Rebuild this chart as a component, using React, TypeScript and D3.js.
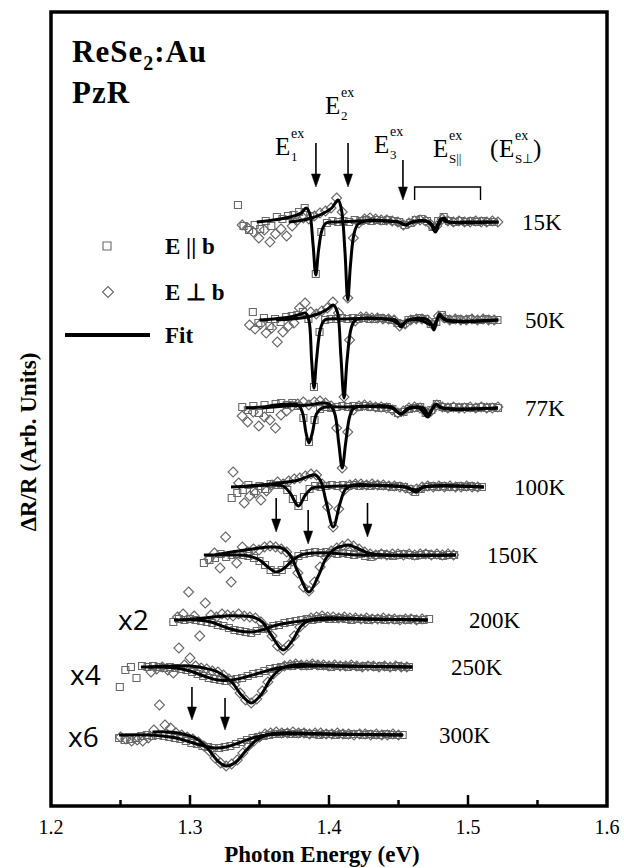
import React from "react";
import * as d3 from "d3";

// temperatures, stacking offsets (arb. units) and the first photon energy of each series
const temps = ["15K", "50K", "77K", "100K", "150K", "200K", "250K", "300K"];
const offsets = [584, 486, 398, 319, 251, 186, 139, 71];
const step = 0.004;
const parStart = [1.3345, 1.3452, 1.3376, 1.33, 1.31, 1.288, 1.2495, 1.249];
const perpStart = [1.3375, 1.3428, 1.3375, 1.331, 1.3136, 1.291, 1.272, 1.25];

// measured dR/R, E || b (squares)
const par15 = [17,-4,-8,-3,-7,1,-4,5,3,6,7,10,14,6,-52,-10,-1,1,0,1,0,2,1,2,1,2,1,2,1,0,-3,-1,2,3,1,-5,1,5,1,0,1,0,1,0,1,0,0];
const par50 = [8,-3,2,-6,1,-2,3,4,5,8,1,-67,-12,0,1,1,2,1,2,1,2,1,1,2,1,0,-3,-4,0,1,2,1,-4,-2,5,1,0,1,0,1,0,0,1,0,0];
const par77 = [1,-2,2,-5,3,-1,4,5,3,5,2,-10,-34,-12,-1,1,0,1,2,1,2,1,2,1,1,0,1,-1,-5,-4,-1,0,1,-5,-2,4,1,0,1,0,1,0,0,1,0,1,0];
const par100 = [-11,-6,-3,2,-4,1,-2,3,2,2,-3,-12,-19,-10,-2,1,0,1,2,1,2,1,2,1,2,1,2,1,1,0,1,0,-2,-5,-2,0,1,0,1,0,0,1,0,1,0,0];
const par150 = [-8,-5,-3,1,-2,0,1,0,-1,-3,-6,-10,-15,-17,-15,-10,-5,-1,1,2,3,2,3,2,1,2,1,0,1,-1,-2,0,1,0,-1,0,1,0,-1,0,1,0,0,-1,0,0];
const par200 = [-2,1,0,1,0,-1,-2,-3,-5,-6,-8,-10,-11,-12,-13,-11,-9,-8,-6,-5,-3,-2,-1,0,1,0,1,2,1,1,2,1,0,1,1,0,1,1,0,1,0,1,0,1,0,0,1];
const par250 = [-20,-3,0,-11,1,0,1,0,-1,0,-1,-2,-3,-5,-7,-9,-11,-12,-13,-14,-13,-12,-11,-9,-7,-6,-4,-2,-1,0,1,1,2,1,1,2,1,1,0,1,1,0,1,0,1,1,0,1,0,0,1,0,0];
const par300 = [-3,-5,-4,-3,-1,0,-1,0,-1,-2,-3,-4,-6,-8,-9,-11,-12,-13,-13,-12,-11,-9,-7,-5,-3,-2,-1,0,1,1,2,1,1,2,1,1,0,1,1,0,1,0,1,1,0,1,0,0,1,0,0,0];

// measured dR/R, E perp b (diamonds)
const perp15 = [-3,-6,-10,-16,-8,-20,-12,-7,-14,-4,2,4,3,6,9,11,14,24,10,-76,-16,-1,3,4,3,2,2,1,0,-3,-1,1,2,1,-3,-4,3,1,0,1,0,0,1,0,0,1,0];
const perp50 = [-5,-9,-4,-13,-8,-22,-12,-6,-3,12,17,8,6,9,12,18,7,-77,-20,-1,3,3,2,2,1,1,0,-6,-4,0,1,1,0,-5,4,2,0,1,0,0,1,0,1,0,0];
const perp77 = [-8,-14,-4,-18,-9,-12,-20,-7,-3,2,4,6,3,6,7,5,2,-20,-60,-24,-2,2,3,2,1,1,0,-2,-5,-3,0,1,0,-4,-3,3,1,0,1,0,0,1,0,1,0,0,1];
const perp100 = [15,4,-16,-9,-6,-13,-4,2,5,3,6,8,9,11,13,12,3,-20,-40,-22,-3,2,3,3,2,3,2,2,1,1,0,-1,-3,-2,0,1,0,1,0,1,0,0,1,0,0];
const perp150 = [-4,2,-13,18,-27,-8,8,3,6,5,8,9,8,6,3,-6,-18,-32,-36,-27,-12,-2,4,7,9,11,9,6,3,1,0,1,0,1,1,0,1,0,1,1,0,1,0,1,0];
const perp200 = [3,6,28,4,-16,17,5,3,6,5,4,6,4,3,2,-2,-8,-16,-26,-30,-25,-16,-7,-2,2,3,4,3,3,2,3,2,2,1,2,1,1,2,1,1,0,1,1,0,1];
const perp250 = [-5,-2,0,-3,-6,19,2,9,1,-1,-2,-4,-5,-8,-12,-18,-26,-33,-36,-32,-24,-15,-7,-2,1,2,3,2,2,3,2,2,1,2,1,1,2,1,0,1,1,0,1,0,1,0,0];
const perp300 = [-2,-4,-6,-5,-6,-3,5,30,10,7,2,0,-2,-4,-7,-11,-16,-23,-28,-31,-29,-25,-18,-11,-6,-2,1,2,3,2,2,3,2,2,1,2,2,1,1,2,1,1,0,1,1,0,1,0,0,1,0];

// line-shape fits [energy, dR/R]
const fitPar15 = [[1.348,0],[1.36,2],[1.372,5],[1.38,9],[1.3835,14],[1.386,9],[1.3885,-22],[1.3905,-53],[1.3925,-28],[1.395,-8],[1.398,-1],[1.405,0],[1.45,0],[1.455,-3],[1.46,0],[1.47,1],[1.4735,-3],[1.4765,-10],[1.4795,-1],[1.4825,4],[1.486,0],[1.5,0],[1.522,0]];
const fitPerp15 = [[1.371,0],[1.385,3],[1.395,8],[1.402,14],[1.4065,22],[1.409,12],[1.4115,-30],[1.4135,-78],[1.4155,-42],[1.418,-12],[1.421,-2],[1.43,2],[1.44,1],[1.45,0],[1.455,-3],[1.46,0],[1.472,0],[1.4765,-6],[1.4805,3],[1.485,0],[1.522,0]];
const fitPar50 = [[1.35,0],[1.36,1],[1.372,3],[1.38,6],[1.383,7],[1.3855,0],[1.3875,-40],[1.3892,-68],[1.391,-40],[1.394,-8],[1.397,0],[1.41,1],[1.445,0],[1.4518,-5],[1.457,0],[1.47,1],[1.4735,-4],[1.4755,-10],[1.4775,-1],[1.4795,6],[1.483,0],[1.5216,0]];
const fitPerp50 = [[1.362,0],[1.38,2],[1.392,6],[1.399,11],[1.403,15],[1.406,8],[1.4085,-35],[1.4108,-78],[1.413,-40],[1.416,-8],[1.419,0],[1.43,2],[1.44,1],[1.448,0],[1.4518,-7],[1.456,-1],[1.465,0],[1.4755,-5],[1.4795,4],[1.485,0],[1.5216,0]];
const fitPar77 = [[1.34,0],[1.352,1],[1.362,3],[1.372,4],[1.378,3],[1.381,-5],[1.3835,-25],[1.3856,-35],[1.388,-25],[1.391,-6],[1.395,0],[1.41,1],[1.445,0],[1.4518,-6],[1.457,-1],[1.465,0],[1.4712,-9],[1.4745,0],[1.477,4],[1.481,0],[1.5216,0]];
const fitPerp77 = [[1.352,0],[1.37,2],[1.385,3],[1.395,5],[1.4,4],[1.404,-5],[1.407,-35],[1.4095,-60],[1.412,-35],[1.415,-8],[1.418,0],[1.43,2],[1.445,1],[1.4518,-6],[1.457,0],[1.468,0],[1.4712,-6],[1.477,3],[1.482,0],[1.5216,0]];
const fitPar100 = [[1.3295,0],[1.345,1],[1.36,2],[1.367,1],[1.372,-6],[1.378,-19],[1.383,-8],[1.388,-1],[1.395,0],[1.41,1],[1.455,0],[1.4626,-5],[1.468,0],[1.5115,0]];
const fitPerp100 = [[1.335,0],[1.35,2],[1.365,4],[1.378,7],[1.386,11],[1.39,12],[1.394,6],[1.398,-15],[1.403,-40],[1.408,-16],[1.412,-2],[1.418,2],[1.43,2],[1.445,1],[1.455,0],[1.4626,-3],[1.468,0],[1.5115,0]];
const fitPar150 = [[1.31,0],[1.33,0],[1.342,-1],[1.35,-5],[1.356,-12],[1.362,-17],[1.368,-13],[1.374,-5],[1.38,0],[1.39,2],[1.4,2],[1.41,1],[1.42,0],[1.4914,0]];
const fitPerp150 = [[1.318,0],[1.33,3],[1.345,6],[1.358,8],[1.366,7],[1.372,0],[1.378,-18],[1.3856,-37],[1.392,-22],[1.398,-3],[1.404,6],[1.41,9],[1.414,10],[1.42,7],[1.428,2],[1.44,0],[1.4914,0]];
const fitPar200 = [[1.2885,0],[1.305,0],[1.315,-2],[1.325,-7],[1.335,-11],[1.344,-12],[1.352,-10],[1.36,-6],[1.37,-3],[1.38,-1],[1.39,0],[1.41,1],[1.471,0]];
const fitPerp200 = [[1.295,0],[1.31,2],[1.325,4],[1.335,4],[1.345,3],[1.352,-2],[1.358,-14],[1.367,-30],[1.374,-20],[1.38,-6],[1.386,0],[1.395,2],[1.41,2],[1.43,1],[1.471,0]];
const fitPar250 = [[1.2647,0],[1.28,0],[1.29,-1],[1.3,-4],[1.31,-9],[1.32,-13],[1.33,-13],[1.34,-10],[1.35,-6],[1.36,-2],[1.37,0],[1.39,1],[1.46,0]];
const fitPerp250 = [[1.27,0],[1.29,1],[1.3,1],[1.31,-1],[1.32,-5],[1.33,-15],[1.337,-28],[1.344,-36],[1.351,-28],[1.358,-12],[1.365,-2],[1.375,2],[1.39,2],[1.41,1],[1.46,0]];
const fitPar300 = [[1.249,0],[1.27,0],[1.28,-1],[1.29,-3],[1.3,-7],[1.31,-11],[1.318,-13],[1.326,-12],[1.335,-8],[1.345,-3],[1.355,0],[1.37,1],[1.453,0]];
const fitPerp300 = [[1.273,3],[1.285,3],[1.295,1],[1.305,-4],[1.313,-14],[1.32,-26],[1.326,-31],[1.333,-27],[1.34,-16],[1.347,-6],[1.355,0],[1.365,2],[1.38,2],[1.4,1],[1.453,0]];

const parData = [par15, par50, par77, par100, par150, par200, par250, par300];
const perpData = [perp15, perp50, perp77, perp100, perp150, perp200, perp250, perp300];
const parFits = [fitPar15, fitPar50, fitPar77, fitPar100, fitPar150, fitPar200, fitPar250, fitPar300];
const perpFits = [fitPerp15, fitPerp50, fitPerp77, fitPerp100, fitPerp150, fitPerp200, fitPerp250, fitPerp300];

// transition arrows: energy, tail and tip (arb. units)
const arrowE = [1.3906, 1.4137, 1.4532, 1.362, 1.385, 1.4277, 1.3014, 1.3252];
const arrowTop = [663, 663, 646, 308, 296, 303, 119, 108];
const arrowTip = [619, 619, 606, 274, 262, 269, 86, 76];
const bracketE = [1.4616, 1.509];

const xTicks = [1.2, 1.3, 1.4, 1.5, 1.6];
const xMinor = [1.25, 1.35, 1.45, 1.55];

const serif = "'Liberation Serif', 'Times New Roman', serif";

export default function App() {
  const x = d3.scaleLinear().domain([1.2, 1.6]).range([51, 607]);
  const y = d3.scaleLinear().domain([0, 794]).range([806, 12]);
  const fitLine = (off: number) =>
    d3.line<number[]>()
      .x(d => x(d[0]))
      .y(d => y(off + d[1]))
      .curve(d3.curveCatmullRom.alpha(0.5));

  const labelX = [522, 525, 525, 514, 487, 469, 451, 439];
  const mult = [
    { t: "x2", x: 118, y: 630 },
    { t: "x4", x: 70, y: 685 },
    { t: "x6", x: 68, y: 747 },
  ];

  const square = (cx: number, cy: number, s = 3.5) =>
    `M${cx - s},${cy - s}h${2 * s}v${2 * s}h${-2 * s}Z`;
  const diamond = (cx: number, cy: number, s = 5) =>
    `M${cx},${cy - s}l${s},${s}l${-s},${s}l${-s},${-s}Z`;

  const ex = (px: number, py: number, sub: string) => (
    <g fontFamily={serif}>
      <text x={px} y={py} fontSize={25}>E</text>
      <text x={px + 16} y={py - 17} fontSize={14}>ex</text>
      <text x={px + 16} y={py + 6} fontSize={13}>{sub}</text>
    </g>
  );

  return (
    <svg
      width={624}
      height={868}
      style={{ position: "absolute", left: 0, top: 0, display: "block", background: "#fff" }}
    >
      {/* data markers */}
      <g fill="none" stroke="#686868" strokeWidth={1.1}>
        {parData.map((vals, t) =>
          vals.map((v, i) => (
            <path key={`p${t}-${i}`} d={square(x(parStart[t] + i * step), y(offsets[t] + v))} />
          ))
        )}
        {perpData.map((vals, t) =>
          vals.map((v, i) => (
            <path key={`d${t}-${i}`} d={diamond(x(perpStart[t] + i * step), y(offsets[t] + v))} />
          ))
        )}
      </g>

      {/* fits */}
      <g fill="none" stroke="#000" strokeWidth={3} strokeLinejoin="round">
        {parFits.map((f, t) => <path key={`fp${t}`} d={fitLine(offsets[t])(f) || ""} />)}
        {perpFits.map((f, t) => <path key={`fd${t}`} d={fitLine(offsets[t])(f) || ""} />)}
      </g>

      {/* temperature labels */}
      <g fontFamily={serif} fontSize={23}>
        {temps.map((t, i) => (
          <text key={t} x={labelX[i]} y={y(offsets[i]) + 8}>{t}</text>
        ))}
      </g>
      <g fontFamily="'Open Sans', 'Liberation Sans', sans-serif" fontSize={28}>
        {mult.map(m => (
          <text key={m.t} x={m.x} y={m.y}>{m.t}</text>
        ))}
      </g>

      {/* arrows */}
      <g stroke="#000" fill="#000">
        {arrowE.map((e, i) => (
          <g key={`a${i}`}>
            <line x1={x(e)} x2={x(e)} y1={y(arrowTop[i])} y2={y(arrowTip[i]) - 10} strokeWidth={1.6} />
            <path d={`M${x(e) - 4.5},${y(arrowTip[i]) - 13}L${x(e) + 4.5},${y(arrowTip[i]) - 13}L${x(e)},${y(arrowTip[i])}Z`} strokeWidth={0.5} />
          </g>
        ))}
        <path
          d={`M${x(bracketE[0])},${y(606)}V${y(619)}H${x(bracketE[1])}V${y(606)}`}
          fill="none"
          strokeWidth={1.4}
        />
      </g>

      {/* transition labels */}
      {ex(275, 155, "1")}
      {ex(325, 114, "2")}
      {ex(374, 153, "3")}
      {ex(433, 157, "S||")}
      <g fontFamily={serif}>
        <text x={490} y={157} fontSize={25}>(</text>
        <text x={499} y={157} fontSize={25}>E</text>
        <text x={515} y={140} fontSize={14}>ex</text>
        <text x={515} y={163} fontSize={13}>S⊥</text>
        <text x={533} y={157} fontSize={25}>)</text>
      </g>

      {/* sample title */}
      <g fontFamily={serif} fontWeight="bold" fontSize={31} letterSpacing={1}>
        <text x={72} y={62}>
          ReSe<tspan fontSize={20} dy={8}>2</tspan><tspan dy={-8}>:Au</tspan>
        </text>
        <text x={72} y={103}>PzR</text>
      </g>

      {/* legend */}
      <g fill="none" stroke="#686868" strokeWidth={1.1}>
        <path d={square(107, 246, 4)} />
        <path d={diamond(108, 292, 5.5)} />
      </g>
      <line x1={65} x2={150} y1={335} y2={335} stroke="#000" strokeWidth={4} />
      <g fontFamily={serif} fontWeight="bold" fontSize={23}>
        <text x={165} y={254}>E || b</text>
        <text x={165} y={300}>E ⊥ b</text>
        <text x={165} y={343}>Fit</text>
      </g>

      {/* frame and ticks */}
      <rect x={51} y={12} width={556} height={794} fill="none" stroke="#000" strokeWidth={3.5} />
      <g stroke="#000" strokeWidth={2.5}>
        {xTicks.slice(1, -1).map(t => (
          <line key={`t${t}`} x1={x(t)} x2={x(t)} y1={806} y2={795} />
        ))}
        {xMinor.map(t => (
          <line key={`m${t}`} x1={x(t)} x2={x(t)} y1={806} y2={800} />
        ))}
      </g>
      <g fontFamily={serif} fontSize={20} textAnchor="middle">
        {xTicks.map(t => (
          <text key={`l${t}`} x={x(t)} y={834}>{t.toFixed(1)}</text>
        ))}
      </g>
      <text x={322} y={862} textAnchor="middle" fontFamily={serif} fontWeight="bold" fontSize={23}>
        Photon Energy (eV)
      </text>
      <text
        transform="translate(28,442) rotate(-90)"
        textAnchor="middle"
        dominantBaseline="central"
        fontFamily={serif}
        fontWeight="bold"
        fontSize={23}
      >
        ΔR/R (Arb. Units)
      </text>
    </svg>
  );
}
